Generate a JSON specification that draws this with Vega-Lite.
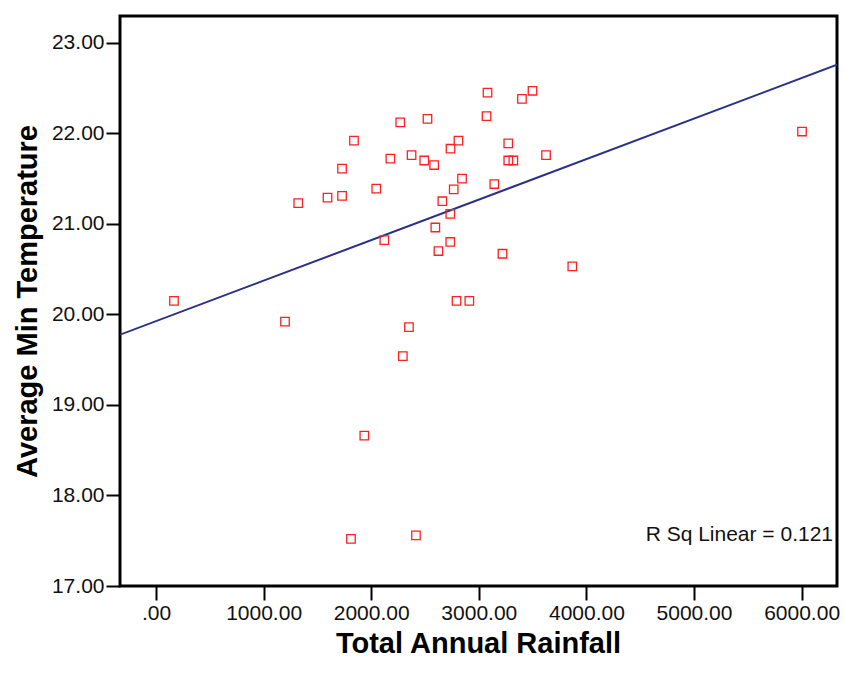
{
  "$schema": "https://vega.github.io/schema/vega-lite/v6.json",
  "width": 717,
  "height": 570,
  "autosize": {"type": "none"},
  "padding": {"left": 120, "top": 16, "right": 7, "bottom": 89},
  "background": "white",
  "config": {
    "view": {"stroke": "black", "strokeWidth": 3},
    "font": "Liberation Sans",
    "axis": {
      "domain": false,
      "grid": false,
      "tickColor": "black",
      "tickWidth": 2,
      "tickSize": 14,
      "labelColor": "#111",
      "labelFontSize": 21,
      "labelFont": "Liberation Sans",
      "titleColor": "black",
      "titleFont": "Liberation Sans",
      "titleFontSize": 29,
      "titleFontWeight": "bold"
    }
  },
  "datasets": {
    "points": [
      {"rainfall": 167, "temp": 20.15},
      {"rainfall": 1199, "temp": 19.92},
      {"rainfall": 1322, "temp": 21.23},
      {"rainfall": 1594, "temp": 21.29},
      {"rainfall": 1729, "temp": 21.31},
      {"rainfall": 1729, "temp": 21.61},
      {"rainfall": 1840, "temp": 21.92},
      {"rainfall": 2047, "temp": 21.39},
      {"rainfall": 2122, "temp": 20.82},
      {"rainfall": 2178, "temp": 21.72},
      {"rainfall": 2270, "temp": 22.12},
      {"rainfall": 2375, "temp": 21.76},
      {"rainfall": 2493, "temp": 21.70},
      {"rainfall": 2523, "temp": 22.16},
      {"rainfall": 2585, "temp": 21.65},
      {"rainfall": 2737, "temp": 21.83},
      {"rainfall": 2811, "temp": 21.92},
      {"rainfall": 3081, "temp": 22.45},
      {"rainfall": 3072, "temp": 22.19},
      {"rainfall": 3401, "temp": 22.38},
      {"rainfall": 3499, "temp": 22.47},
      {"rainfall": 3274, "temp": 21.89},
      {"rainfall": 3274, "temp": 21.70},
      {"rainfall": 3321, "temp": 21.70},
      {"rainfall": 3625, "temp": 21.76},
      {"rainfall": 2844, "temp": 21.50},
      {"rainfall": 2767, "temp": 21.38},
      {"rainfall": 3144, "temp": 21.44},
      {"rainfall": 2661, "temp": 21.25},
      {"rainfall": 2735, "temp": 21.11},
      {"rainfall": 2596, "temp": 20.96},
      {"rainfall": 2735, "temp": 20.80},
      {"rainfall": 2625, "temp": 20.70},
      {"rainfall": 3220, "temp": 20.67},
      {"rainfall": 2793, "temp": 20.15},
      {"rainfall": 2912, "temp": 20.15},
      {"rainfall": 2351, "temp": 19.86},
      {"rainfall": 2294, "temp": 19.54},
      {"rainfall": 1936, "temp": 18.66},
      {"rainfall": 1812, "temp": 17.52},
      {"rainfall": 2416, "temp": 17.56},
      {"rainfall": 3869, "temp": 20.53},
      {"rainfall": 6004, "temp": 22.02}
    ],
    "fit": [
      {"rainfall": -334, "temp": 19.776},
      {"rainfall": 6329, "temp": 22.757}
    ],
    "note": [
      {"label": "R Sq Linear = 0.121"}
    ]
  },
  "layer": [
    {
      "data": {"name": "fit"},
      "mark": {"type": "line", "color": "#2b2f89", "strokeWidth": 2, "clip": true},
      "encoding": {
        "x": {
          "field": "rainfall",
          "type": "quantitative",
          "scale": {"domain": [-334.6, 6329], "nice": false, "zero": false},
          "axis": {
            "title": "Total Annual Rainfall",
            "values": [0, 1000, 2000, 3000, 4000, 5000, 6000],
            "labelExpr": "datum.value == 0 ? '.00' : format(datum.value, '.2f')",
            "labelPadding": 2,
            "titleX": 358,
            "titleY": 57,
            "titleBaseline": "middle",
            "titleAlign": "center"
          }
        },
        "y": {
          "field": "temp",
          "type": "quantitative",
          "scale": {"domain": [17, 23.296], "nice": false, "zero": false},
          "axis": {
            "title": "Average Min Temperature",
            "values": [17, 18, 19, 20, 21, 22, 23],
            "format": ".2f",
            "labelPadding": 2,
            "titleX": -93,
            "titleY": 285,
            "titleAngle": -90,
            "titleBaseline": "middle",
            "titleAlign": "center"
          }
        }
      }
    },
    {
      "data": {"name": "points"},
      "mark": {"type": "point", "shape": "square", "filled": false, "size": 72, "color": "#ff2020", "strokeWidth": 1.3, "opacity": 1},
      "encoding": {
        "x": {"field": "rainfall", "type": "quantitative"},
        "y": {"field": "temp", "type": "quantitative"}
      }
    },
    {
      "data": {"name": "note"},
      "mark": {"type": "text", "align": "right", "baseline": "middle", "fontSize": 21, "font": "Liberation Sans", "color": "#111"},
      "encoding": {
        "x": {"datum": 6292, "type": "quantitative"},
        "y": {"datum": 17.56, "type": "quantitative"},
        "text": {"field": "label"}
      }
    }
  ]
}
